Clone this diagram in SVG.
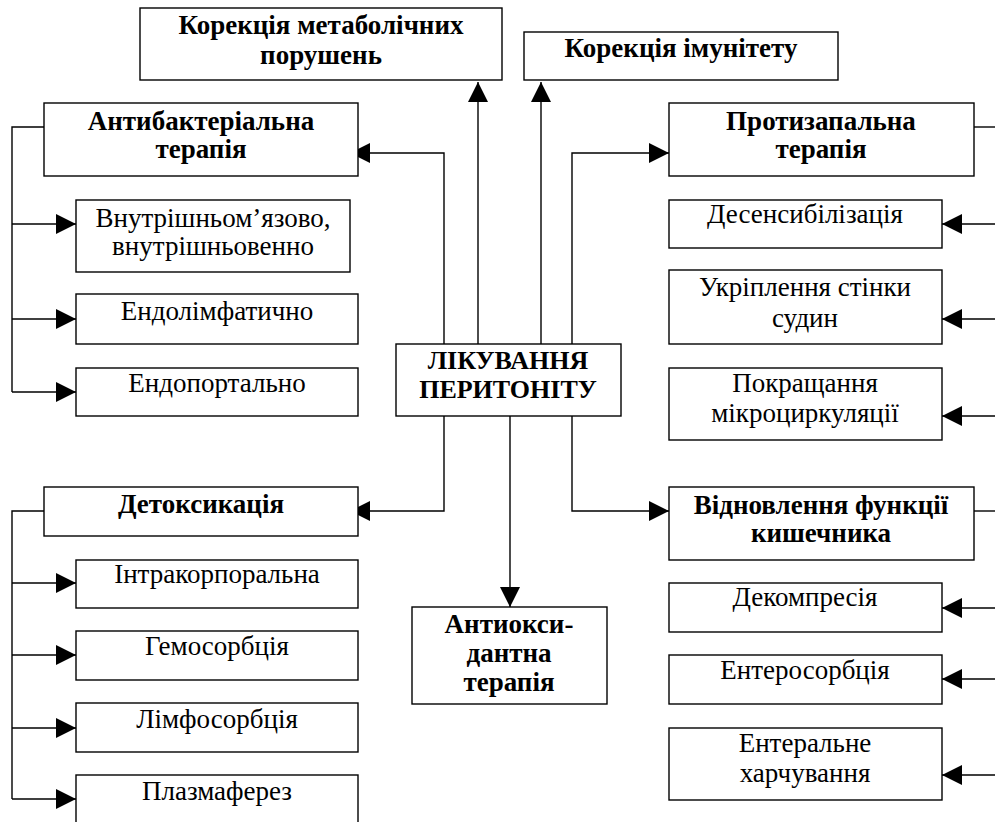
<svg xmlns="http://www.w3.org/2000/svg" width="995" height="822" viewBox="0 0 995 822">
<defs>
<marker id="ah" viewBox="0 0 20 20" refX="20" refY="10" markerWidth="20" markerHeight="20" markerUnits="userSpaceOnUse" orient="auto">
<path d="M0,0 L20,10 L0,20 Z" fill="#000"/>
</marker>
<style>
rect{fill:#fff;stroke:#000;stroke-width:1.4}
.c path{fill:none;stroke:#000;stroke-width:1.4}
.c .a{marker-end:url(#ah)}
text{font-family:"Liberation Serif","Times New Roman",serif;fill:#000;text-anchor:middle}
.b{font-weight:bold;font-size:27px}
.bc{font-weight:bold;font-size:26px}
.r{font-size:27px}
</style>
</defs>
<rect x="0" y="0" width="995" height="822" style="fill:#fff;stroke:none"/>
<g class="c" id="connectors">
<path d="M44,127 H12 V392"/>
<path class="a" d="M12,224 H76"/>
<path class="a" d="M12,319 H76"/>
<path class="a" d="M12,392 H76"/>
<path d="M44,511 H12 V799"/>
<path class="a" d="M12,583 H76"/>
<path class="a" d="M12,655 H76"/>
<path class="a" d="M12,728 H76"/>
<path class="a" d="M12,799 H76"/>
<path d="M974,127 H995"/>
<path class="a" d="M995,224 H942"/>
<path class="a" d="M995,319 H942"/>
<path class="a" d="M995,416 H942"/>
<path d="M974,511 H995"/>
<path class="a" d="M995,608 H942"/>
<path class="a" d="M995,679 H942"/>
<path class="a" d="M995,775 H942"/>
<path class="a" d="M444,344 V153 H350"/>
<path class="a" d="M478,344 V82"/>
<path class="a" d="M541,344 V82"/>
<path class="a" d="M572,344 V153 H669"/>
<path class="a" d="M444,416 V511 H350"/>
<path class="a" d="M510,416 V607"/>
<path class="a" d="M572,416 V511 H669"/>
</g>
<g id="n-metab"><rect x="140" y="8" width="362" height="72"/><text class="b" x="321" y="34">Корекція метаболічних</text><text class="b" x="321" y="64">порушень</text></g>
<g id="n-imun"><rect x="524" y="32" width="314" height="48"/><text class="b" x="681" y="57">Корекція імунітету</text></g>
<g id="n-antibakt"><rect x="44" y="103" width="314" height="73"/><text class="b" x="201" y="130">Антибактеріальна</text><text class="b" x="201" y="158">терапія</text></g>
<g id="n-protyzap"><rect x="669" y="103" width="305" height="73"/><text class="b" x="821" y="130">Протизапальна</text><text class="b" x="821" y="158">терапія</text></g>
<g id="n-vnutr"><rect x="76" y="200" width="274" height="72"/><text class="r" x="213" y="227">Внутрішньом’язово,</text><text class="r" x="213" y="255">внутрішньовенно</text></g>
<g id="n-desens"><rect x="669" y="200" width="273" height="48"/><text class="r" x="805" y="223">Десенсибілізація</text></g>
<g id="n-endolimf"><rect x="76" y="294" width="282" height="50"/><text class="r" x="217" y="320">Ендолімфатично</text></g>
<g id="n-ukripl"><rect x="669" y="270" width="273" height="74"/><text class="r" x="805" y="296">Укріплення стінки</text><text class="r" x="805" y="327">судин</text></g>
<g id="n-endoport"><rect x="76" y="368" width="282" height="48"/><text class="r" x="217" y="392">Ендопортально</text></g>
<g id="n-center"><rect x="396" y="344" width="225" height="72"/><text class="bc" x="508" y="369">ЛІКУВАННЯ</text><text class="bc" x="508" y="398">ПЕРИТОНІТУ</text></g>
<g id="n-pokr"><rect x="669" y="368" width="273" height="72"/><text class="r" x="805" y="392">Покращання</text><text class="r" x="805" y="422">мікроциркуляції</text></g>
<g id="n-detox"><rect x="44" y="487" width="314" height="49"/><text class="b" x="201" y="513">Детоксикація</text></g>
<g id="n-vidnovl"><rect x="669" y="487" width="305" height="73"/><text class="b" x="821" y="514">Відновлення функції</text><text class="b" x="821" y="542">кишечника</text></g>
<g id="n-intra"><rect x="76" y="560" width="282" height="48"/><text class="r" x="217" y="583">Інтракорпоральна</text></g>
<g id="n-dekompr"><rect x="669" y="583" width="273" height="49"/><text class="r" x="805" y="606">Декомпресія</text></g>
<g id="n-antiox"><rect x="412" y="607" width="195" height="97"/><text class="b" x="509" y="633">Антиокси-</text><text class="b" x="509" y="662">дантна</text><text class="b" x="509" y="691">терапія</text></g>
<g id="n-hemo"><rect x="76" y="631" width="282" height="49"/><text class="r" x="217" y="655">Гемосорбція</text></g>
<g id="n-entero"><rect x="669" y="655" width="273" height="49"/><text class="r" x="805" y="679">Ентеросорбція</text></g>
<g id="n-limf"><rect x="76" y="703" width="282" height="49"/><text class="r" x="217" y="728">Лімфосорбція</text></g>
<g id="n-enteral"><rect x="669" y="728" width="273" height="72"/><text class="r" x="805" y="752">Ентеральне</text><text class="r" x="805" y="782">харчування</text></g>
<g id="n-plazma"><rect x="76" y="775" width="282" height="60"/><text class="r" x="217" y="800">Плазмаферез</text></g>
</svg>
